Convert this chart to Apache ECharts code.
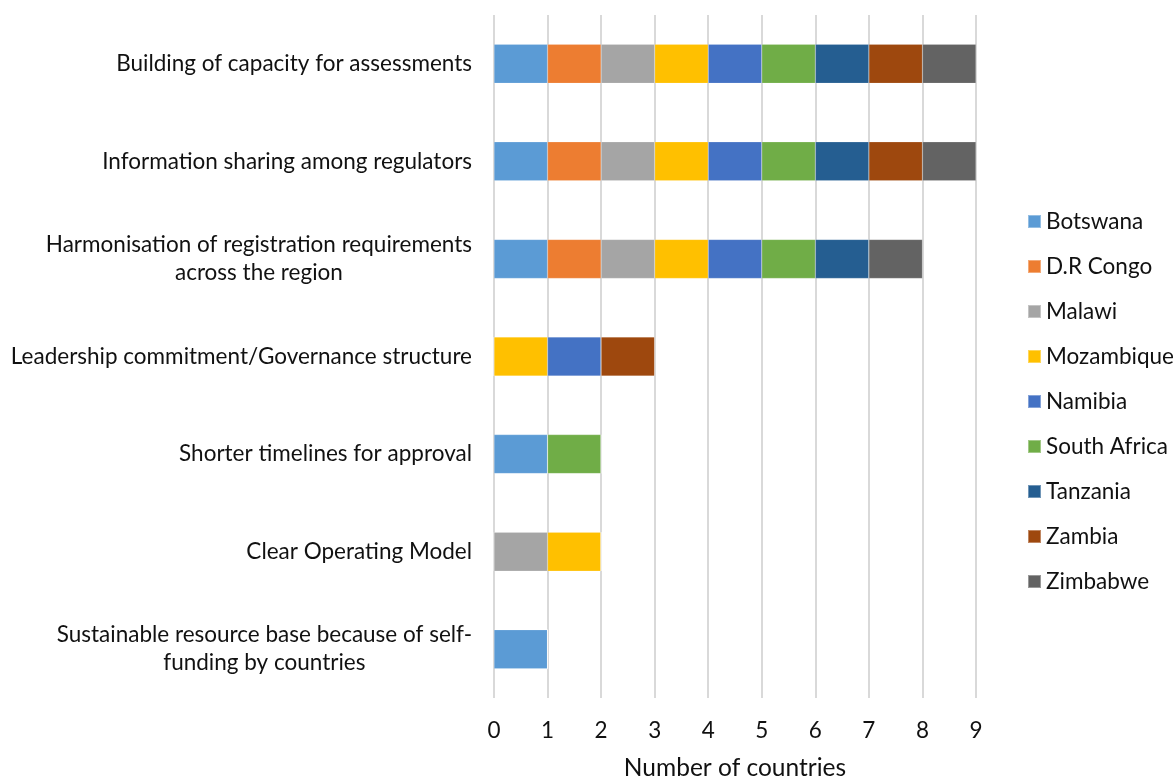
<!DOCTYPE html>
<html>
<head>
<meta charset="utf-8">
<script src="https://cdn.jsdelivr.net/npm/echarts@6/dist/echarts.min.js"></script>
<style>
  html, body { margin: 0; padding: 0; background: #fff; }
  #chart { width: 1173px; height: 778px; }
</style>
</head>
<body>
<div id="chart"></div>
<script>
const categories = [
  "Building of capacity for assessments",
  "Information sharing among regulators",
  "Harmonisation of registration requirements\nacross the region",
  "Leadership commitment/Governance structure",
  "Shorter timelines for approval",
  "Clear Operating Model",
  "Sustainable resource base because of self-\nfunding by countries"
];
const countries = ["Botswana", "D.R Congo", "Malawi", "Mozambique", "Namibia", "South Africa", "Tanzania", "Zambia", "Zimbabwe"];
const colors = ["#5B9BD5", "#ED7D31", "#A5A5A5", "#FFC000", "#4472C4", "#70AD47", "#255E91", "#9E480E", "#636363"];

// one value per category, top to bottom
const botswana = [1, 1, 1, 0, 1, 0, 1];
const drCongo = [1, 1, 1, 0, 0, 0, 0];
const malawi = [1, 1, 1, 0, 0, 1, 0];
const mozambique = [1, 1, 1, 1, 0, 1, 0];
const namibia = [1, 1, 1, 1, 0, 0, 0];
const southAfrica = [1, 1, 1, 0, 1, 0, 0];
const tanzania = [1, 1, 1, 0, 0, 0, 0];
const zambia = [1, 1, 0, 1, 0, 0, 0];
const zimbabwe = [1, 1, 1, 0, 0, 0, 0];
const seriesData = [botswana, drCongo, malawi, mozambique, namibia, southAfrica, tanzania, zambia, zimbabwe];

const xTicks = [0, 1, 2, 3, 4, 5, 6, 7, 8, 9];
const xTitle = "Number of countries";

const FONT = "Lato";
const FS = 22.5;
const chart = echarts.init(document.getElementById("chart"), null, { renderer: "canvas" });

chart.setOption({
  animation: false,
  backgroundColor: "#fff",
  color: colors,
  textStyle: { fontFamily: FONT },
  grid: { left: 494, right: 197, top: 15, bottom: 80, containLabel: false, outerBoundsMode: "none" },
  legend: {
    orient: "vertical",
    left: 1022,
    top: 205,
    icon: "rect",
    itemWidth: 13,
    itemHeight: 13,
    itemGap: 22,
    textStyle: { fontFamily: FONT, fontSize: FS, color: "#111", lineHeight: 20 },
    data: countries
  },
  xAxis: {
    type: "value",
    min: xTicks[0],
    max: xTicks[xTicks.length - 1],
    interval: 1,
    name: xTitle,
    nameLocation: "middle",
    nameGap: 58,
    nameTextStyle: { fontFamily: FONT, fontSize: 24.5, color: "#111" },
    axisLine: { show: false },
    axisTick: { show: false },
    axisLabel: { fontFamily: FONT, fontSize: FS, color: "#111", margin: 21 },
    splitLine: { show: true, lineStyle: { color: "#D9D9D9", width: 2 } }
  },
  yAxis: {
    type: "category",
    inverse: true,
    data: categories,
    axisLine: { show: false },
    axisTick: { show: false },
    axisLabel: {
      margin: 22,
      fontFamily: FONT,
      fontSize: FS,
      color: "#111",
      lineHeight: 28,
      formatter: (v) => v.split("\n").map((s) => "{c|" + s + "}").join("\n"),
      rich: {
        c: { align: "center", fontFamily: FONT, fontSize: FS, color: "#111", lineHeight: 28 }
      }
    }
  },
  series: countries.map((name, i) => ({
    name: name,
    type: "bar",
    stack: "total",
    barWidth: "40%",
    data: seriesData[i],
    itemStyle: { color: colors[i], borderColor: "rgba(255,255,255,0.35)", borderWidth: 0.5 }
  }))
});
</script>
</body>
</html>
